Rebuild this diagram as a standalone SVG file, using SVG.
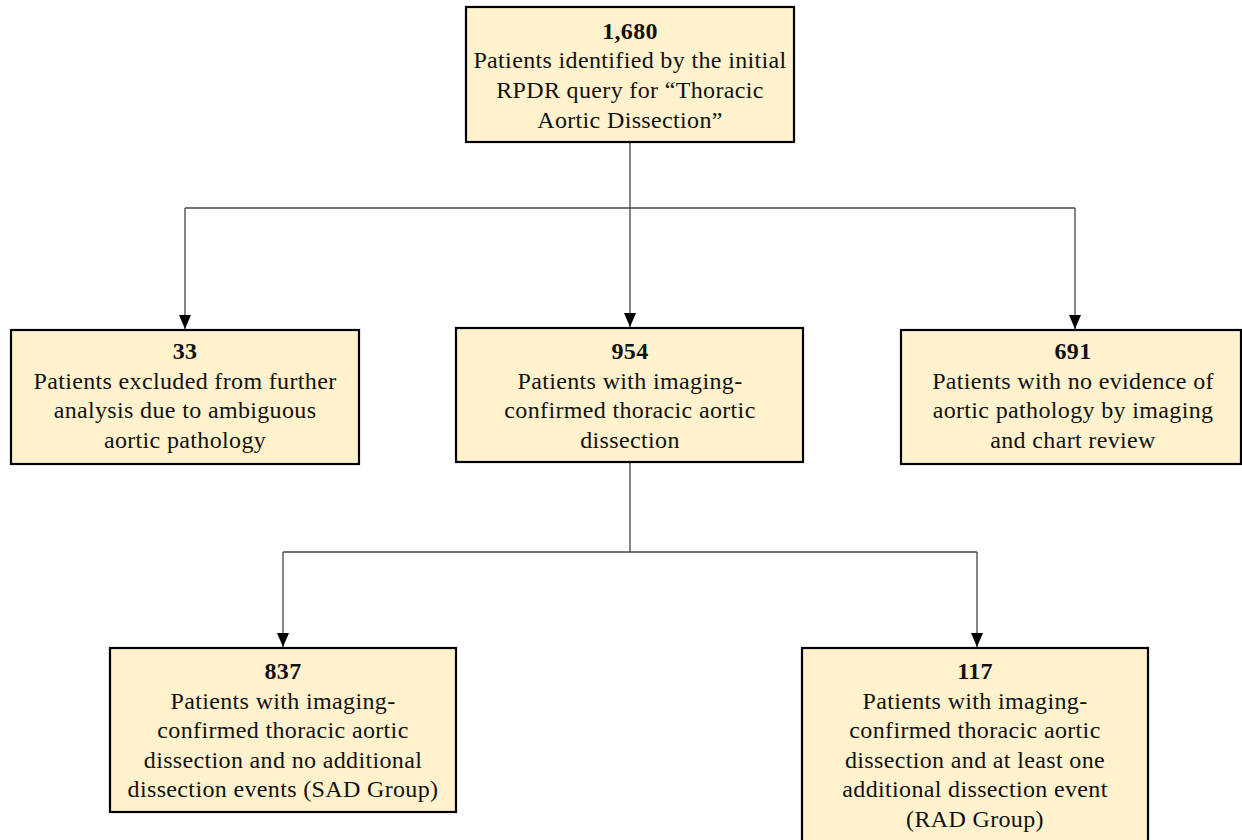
<svg xmlns="http://www.w3.org/2000/svg" width="1242" height="840" viewBox="0 0 1242 840">
<defs>
<marker id="arr" markerUnits="userSpaceOnUse" markerWidth="14" markerHeight="12" viewBox="0 0 14 12" refX="14" refY="6" orient="auto">
<path d="M0,0 L14,6 L0,12 Z" fill="#000"/>
</marker>
</defs>
<style>
.box{fill:#FFF2CC;stroke:#000;stroke-width:2.2}
.t{font-family:"Liberation Serif","Times New Roman",serif;font-size:24px;letter-spacing:0.35px;fill:#111;text-anchor:middle}
.b{font-weight:bold}
.c{fill:none;stroke:#444;stroke-width:1.3}
</style>
<rect width="1242" height="840" fill="#fff"/>
<g id="connectors">
<path class="c" d="M630,142 V208"/>
<path class="c" d="M185,208 H1075"/>
<path class="c" d="M185,208 V329" marker-end="url(#arr)"/>
<path class="c" d="M630,208 V327" marker-end="url(#arr)"/>
<path class="c" d="M1075,208 V329" marker-end="url(#arr)"/>
<path class="c" d="M630,462 V552 M283,552 H977"/>
<path class="c" d="M283,552 V647" marker-end="url(#arr)"/>
<path class="c" d="M977,552 V647" marker-end="url(#arr)"/>
</g>
<g id="n1680">
<rect class="box" x="466" y="7" width="328" height="135"/>
<text class="t"><tspan class="b" x="630" y="39">1,680</tspan><tspan x="630" y="68">Patients identified by the initial</tspan><tspan x="630" y="98">RPDR query for “Thoracic</tspan><tspan x="630" y="128">Aortic Dissection”</tspan></text>
</g>
<g id="n33">
<rect class="box" x="11" y="330" width="348" height="134"/>
<text class="t"><tspan class="b" x="185" y="359">33</tspan><tspan x="185" y="389">Patients excluded from further</tspan><tspan x="185" y="418">analysis due to ambiguous</tspan><tspan x="185" y="448">aortic pathology</tspan></text>
</g>
<g id="n954">
<rect class="box" x="456" y="328" width="347" height="134"/>
<text class="t"><tspan class="b" x="630" y="359">954</tspan><tspan x="630" y="389">Patients with imaging-</tspan><tspan x="630" y="418">confirmed thoracic aortic</tspan><tspan x="630" y="448">dissection</tspan></text>
</g>
<g id="n691">
<rect class="box" x="901" y="330" width="340" height="134"/>
<text class="t"><tspan class="b" x="1073" y="359">691</tspan><tspan x="1073" y="389">Patients with no evidence of</tspan><tspan x="1073" y="418">aortic pathology by imaging</tspan><tspan x="1073" y="448">and chart review</tspan></text>
</g>
<g id="n837">
<rect class="box" x="110" y="648" width="346" height="164"/>
<text class="t"><tspan class="b" x="283" y="679">837</tspan><tspan x="283" y="709">Patients with imaging-</tspan><tspan x="283" y="738">confirmed thoracic aortic</tspan><tspan x="283" y="768">dissection and no additional</tspan><tspan x="283" y="797">dissection events (SAD Group)</tspan></text>
</g>
<g id="n117">
<rect class="box" x="802" y="648" width="346" height="200"/>
<text class="t"><tspan class="b" x="975" y="679">117</tspan><tspan x="975" y="709">Patients with imaging-</tspan><tspan x="975" y="738">confirmed thoracic aortic</tspan><tspan x="975" y="768">dissection and at least one</tspan><tspan x="975" y="797">additional dissection event</tspan><tspan x="975" y="827">(RAD Group)</tspan></text>
</g>
</svg>
